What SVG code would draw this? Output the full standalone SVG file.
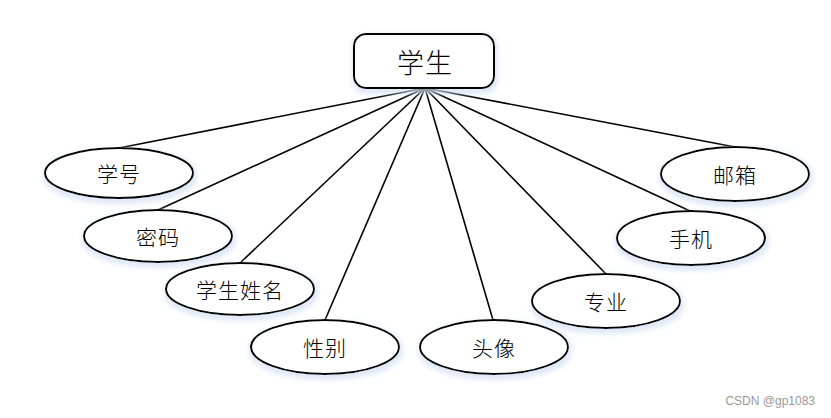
<svg xmlns="http://www.w3.org/2000/svg" width="831" height="418" viewBox="0 0 831 418">
<style>
.attr ellipse{fill:#fff;stroke:#000;stroke-width:2;filter:url(#glow)}
.attr text{font-family:"Noto Sans CJK SC","Noto Sans",sans-serif;font-size:21px;font-weight:300;fill:#000;text-anchor:middle;dominant-baseline:central;letter-spacing:1px}
#connectors line{stroke:#000;stroke-width:1.6}
</style>
<defs>
<filter id="glow" x="-20%" y="-40%" width="140%" height="190%">
<feMorphology in="SourceAlpha" operator="dilate" radius="1.5" result="d"/>
<feOffset in="d" dx="1" dy="3" result="o"/>
<feGaussianBlur in="o" stdDeviation="2.5" result="b"/>
<feFlood flood-color="#d3e0f2" flood-opacity="0.7"/>
<feComposite in2="b" operator="in" result="s"/>
<feMerge><feMergeNode in="s"/><feMergeNode in="SourceGraphic"/></feMerge>
</filter>
</defs>
<rect width="831" height="418" fill="#fff"/>
<g id="connectors">
<line x1="425" y1="88" x2="119" y2="148"/>
<line x1="425" y1="88" x2="158" y2="210"/>
<line x1="425" y1="88" x2="240" y2="263"/>
<line x1="425" y1="88" x2="325" y2="320"/>
<line x1="425" y1="88" x2="493" y2="320"/>
<line x1="425" y1="88" x2="606" y2="274"/>
<line x1="425" y1="88" x2="690" y2="211"/>
<line x1="425" y1="88" x2="735" y2="147"/>
</g>
<g id="student">
<rect x="354" y="34" width="140" height="54" rx="12" fill="#fff" stroke="#000" stroke-width="2" filter="url(#glow)"/>
<text x="425" y="61" font-family="Noto Sans CJK SC,Noto Sans,sans-serif" font-size="27" font-weight="300" text-anchor="middle" dominant-baseline="central" letter-spacing="1">学生</text>
</g>
<g id="xuehao" class="attr"><ellipse cx="119" cy="173" rx="74" ry="25"/><text x="119" y="173">学号</text></g>
<g id="mima" class="attr"><ellipse cx="158" cy="236" rx="74" ry="26"/><text x="158" y="236">密码</text></g>
<g id="xingming" class="attr"><ellipse cx="240" cy="289" rx="74" ry="26"/><text x="240" y="289">学生姓名</text></g>
<g id="xingbie" class="attr"><ellipse cx="325" cy="347" rx="74" ry="27"/><text x="325" y="347">性别</text></g>
<g id="touxiang" class="attr"><ellipse cx="494" cy="347" rx="74" ry="27"/><text x="494" y="347">头像</text></g>
<g id="zhuanye" class="attr"><ellipse cx="606" cy="301" rx="74" ry="27"/><text x="606" y="301">专业</text></g>
<g id="shouji" class="attr"><ellipse cx="691" cy="238" rx="74" ry="27"/><text x="691" y="238">手机</text></g>
<g id="youxiang" class="attr"><ellipse cx="735" cy="174" rx="74" ry="27"/><text x="735" y="174">邮箱</text></g>
<text x="815" y="405" font-family="Liberation Sans,Arial,sans-serif" font-size="12" fill="#999" text-anchor="end">CSDN @gp1083</text>
</svg>
